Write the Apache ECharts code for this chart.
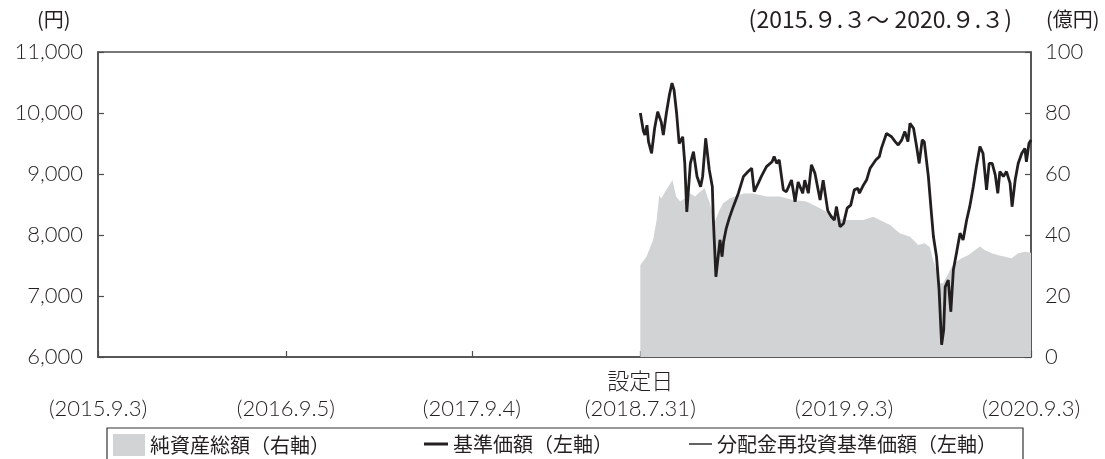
<!DOCTYPE html>
<html>
<head>
<meta charset="utf-8">
<script src="https://cdn.jsdelivr.net/npm/echarts@6/dist/echarts.min.js"></script>
<style>html,body{margin:0;padding:0;background:#fff;}#c{width:1105px;height:459px;}</style>
</head>
<body>
<div id="c"></div>
<script>
// ---- data ----
var tickDates = ['2015-09-03','2016-09-05','2017-09-04','2018-07-31','2019-09-03','2020-09-03'];
var tickLabels = ['\n(2015.9.3)','\n(2016.9.5)','\n(2017.9.4)','設定日\n(2018.7.31)','\n(2019.9.3)','\n(2020.9.3)'];

var navDates = ['2018-07-31','2018-08-06','2018-08-09','2018-08-13','2018-08-16','2018-08-22','2018-08-28','2018-09-03','2018-09-10','2018-09-14','2018-09-20','2018-09-26','2018-10-01','2018-10-05','2018-10-10','2018-10-15','2018-10-22','2018-10-26','2018-10-30','2018-11-06','2018-11-12','2018-11-19','2018-11-26','2018-11-30','2018-12-06','2018-12-13','2018-12-19','2018-12-21','2018-12-26','2019-01-03','2019-01-07','2019-01-10','2019-01-15','2019-01-21','2019-01-29','2019-02-08','2019-02-18','2019-02-27','2019-03-06','2019-03-11','2019-03-19','2019-03-25','2019-04-04','2019-04-15','2019-04-19','2019-04-24','2019-04-29','2019-05-07','2019-05-13','2019-05-23','2019-05-30','2019-06-05','2019-06-14','2019-06-18','2019-06-25','2019-07-01','2019-07-08','2019-07-18','2019-07-24','2019-08-02','2019-08-09','2019-08-15','2019-08-19','2019-08-26','2019-09-02','2019-09-09','2019-09-16','2019-09-23','2019-09-30','2019-10-03','2019-10-11','2019-10-17','2019-10-24','2019-11-04','2019-11-11','2019-11-15','2019-11-25','2019-12-05','2019-12-12','2019-12-18','2019-12-25','2019-12-31','2020-01-06','2020-01-10','2020-01-17','2020-01-23','2020-01-28','2020-02-03','2020-02-07','2020-02-15','2020-02-21','2020-02-25','2020-03-02','2020-03-07','2020-03-12','2020-03-16','2020-03-19','2020-03-25','2020-03-30','2020-04-04','2020-04-10','2020-04-17','2020-04-23','2020-04-30','2020-05-06','2020-05-13','2020-05-19','2020-05-26','2020-06-01','2020-06-08','2020-06-13','2020-06-19','2020-06-25','2020-06-30','2020-07-04','2020-07-11','2020-07-17','2020-07-24','2020-07-28','2020-08-03','2020-08-09','2020-08-16','2020-08-22','2020-08-25','2020-08-30','2020-09-03'];
var navValues = [10000,9700,9640,9800,9530,9340,9750,10020,9850,9640,10000,10300,10490,10380,10000,9500,9610,9180,8380,9175,9365,8960,8790,8960,9585,9070,8790,8245,7315,7920,7645,7890,8100,8273,8465,8685,8960,9040,9095,8710,8850,8960,9120,9200,9285,9175,9230,8740,8710,8900,8545,8870,8685,8900,8685,9150,9010,8575,8900,8400,8300,8245,8465,8135,8190,8440,8490,8740,8765,8685,8820,8900,9095,9230,9285,9420,9665,9610,9530,9475,9560,9695,9530,9830,9750,9450,9175,9560,9530,8960,8355,7970,7645,7100,6200,6440,7150,7260,6745,7430,7700,8030,7920,8245,8465,8790,9120,9450,9340,8740,9175,9175,8985,8685,9040,8960,9040,8850,8465,8900,9175,9340,9420,9200,9500,9560];
// 分配金再投資基準価額 (no distributions: same as 基準価額)
var reinvValues = navValues.slice();

var assetDates = ['2018-07-31','2018-08-12','2018-08-25','2018-09-01','2018-09-06','2018-09-10','2018-09-20','2018-10-02','2018-10-09','2018-10-17','2018-10-26','2018-11-05','2018-11-15','2018-11-25','2018-12-04','2018-12-14','2018-12-24','2019-01-02','2019-01-09','2019-01-22','2019-02-18','2019-03-09','2019-04-04','2019-04-30','2019-05-26','2019-06-21','2019-07-18','2019-08-13','2019-09-01','2019-09-21','2019-10-11','2019-10-30','2019-11-12','2019-12-02','2019-12-21','2020-01-10','2020-01-26','2020-02-08','2020-02-18','2020-02-24','2020-03-02','2020-03-09','2020-03-15','2020-03-25','2020-04-01','2020-04-10','2020-04-20','2020-05-03','2020-05-16','2020-05-26','2020-06-05','2020-06-18','2020-07-01','2020-07-14','2020-07-27','2020-08-09','2020-08-22','2020-09-03'];
var assetValues = [30.2,32.9,38.4,45,53,52,54.8,58,52.6,51,52,53.7,52.6,54.2,55.3,50.4,44.4,48.2,50.4,52,53.6,53.6,52.6,52.6,51.5,51,48.8,46.3,44.9,44.9,44.9,46,44.9,43.3,40.6,39.4,36.7,37.3,36,32,28.5,24.2,24.2,27.4,29.6,31.2,32.4,33.4,35,36.2,35,34,33.4,32.9,32.4,34,34.5,34.2];

var leftTicks = [6000,7000,8000,9000,10000,11000];
var rightTicks = [0,20,40,60,80,100];

// ---- build ----
function ts(s){var p=s.split('-');return Date.UTC(+p[0],+p[1]-1,+p[2]);}
function pairs(d,v){return d.map(function(x,i){return [ts(x),v[i]];});}
var tickTs = tickDates.map(ts);

var numFont = 'Lato, "Noto Sans CJK JP", sans-serif';
var cjkFont = '"Noto Sans CJK JP", sans-serif';
var txt = '#231f20';
var axisCol = '#4d4d4d';

var chart = echarts.init(document.getElementById('c'), null, {renderer:'canvas'});
chart.setOption({
  animation:false,
  backgroundColor:'#ffffff',
  grid:{left:98,right:74,top:52,bottom:102,show:true,borderColor:axisCol,borderWidth:1.5,backgroundColor:'transparent'},
  xAxis:{
    type:'value', min:tickTs[0], max:tickTs[tickTs.length-1],
    axisLine:{show:true,lineStyle:{color:axisCol,width:1.5}},
    axisTick:{show:true,inside:true,length:6,customValues:tickTs,lineStyle:{color:axisCol,width:1.2}},
    splitLine:{show:false},
    axisLabel:{
      customValues:tickTs, hideOverlap:false, margin:11,
      fontFamily:numFont, fontWeight:300, fontSize:22, color:txt, lineHeight:27, align:'center',
      formatter:function(v){var i=tickTs.indexOf(v);return i>=0?tickLabels[i]:'';}
    }
  },
  yAxis:[{
    type:'value', min:leftTicks[0], max:leftTicks[leftTicks.length-1], interval:1000, position:'left',
    axisLine:{show:true,lineStyle:{color:axisCol,width:1.5}},
    axisTick:{show:true,inside:true,length:6,lineStyle:{color:axisCol,width:1.2}},
    splitLine:{show:false},
    axisLabel:{margin:15,fontFamily:numFont,fontWeight:300,fontSize:22,color:txt,
      formatter:function(v){return String(v).replace(/\B(?=(\d{3})+(?!\d))/g,',');}}
  },{
    type:'value', min:rightTicks[0], max:rightTicks[rightTicks.length-1], interval:20, position:'right',
    axisLine:{show:true,lineStyle:{color:axisCol,width:1.5}},
    axisTick:{show:true,inside:true,length:6,lineStyle:{color:axisCol,width:1.2}},
    splitLine:{show:false},
    axisLabel:{margin:14,fontFamily:numFont,fontWeight:300,fontSize:22,color:txt}
  }],
  legend:[
    {left:113,top:434,padding:0,itemWidth:32,itemHeight:22,itemGap:0,icon:'rect',
     data:['純資産総額（右軸）'],textStyle:{fontFamily:cjkFont,fontSize:20,color:txt},selectedMode:false},
    {left:424,top:434,padding:0,itemWidth:24,itemHeight:3,icon:'rect',
     data:['基準価額（左軸）'],textStyle:{fontFamily:cjkFont,fontSize:20,color:txt},selectedMode:false},
    {left:689,top:434,padding:0,itemWidth:23,itemHeight:1.4,icon:'rect',
     data:['分配金再投資基準価額（左軸）'],textStyle:{fontFamily:cjkFont,fontSize:20,color:txt},selectedMode:false}
  ],
  graphic:[
    {type:'text',left:37,top:9,style:{text:'(円)',font:'20px "Noto Sans CJK JP"',fill:txt}},
    {type:'text',right:93,top:8,style:{text:'(2015.９.３～ 2020.９.３)',font:'23px "Noto Sans CJK JP"',fill:txt}},
    {type:'text',left:1046,top:9,style:{text:'(億円)',font:'20px "Noto Sans CJK JP"',fill:txt}},
    {type:'rect',shape:{x:107,y:428,width:916,height:40},style:{fill:'none',stroke:'#333',lineWidth:1.2},z:-1}
  ],
  series:[
    {name:'純資産総額（右軸）',type:'line',yAxisIndex:1,data:pairs(assetDates,assetValues),
     symbol:'none',color:'#d1d3d4',lineStyle:{width:0},areaStyle:{color:'#d1d3d4',opacity:1},z:1},
    {name:'分配金再投資基準価額（左軸）',type:'line',yAxisIndex:0,data:pairs(navDates,reinvValues),
     symbol:'none',color:'#231f20',lineStyle:{width:1,color:'#231f20'},z:2},
    {name:'基準価額（左軸）',type:'line',yAxisIndex:0,data:pairs(navDates,navValues),
     symbol:'none',color:'#231f20',lineStyle:{width:2.8,color:'#231f20'},z:3}
  ]
});
</script>
</body>
</html>
